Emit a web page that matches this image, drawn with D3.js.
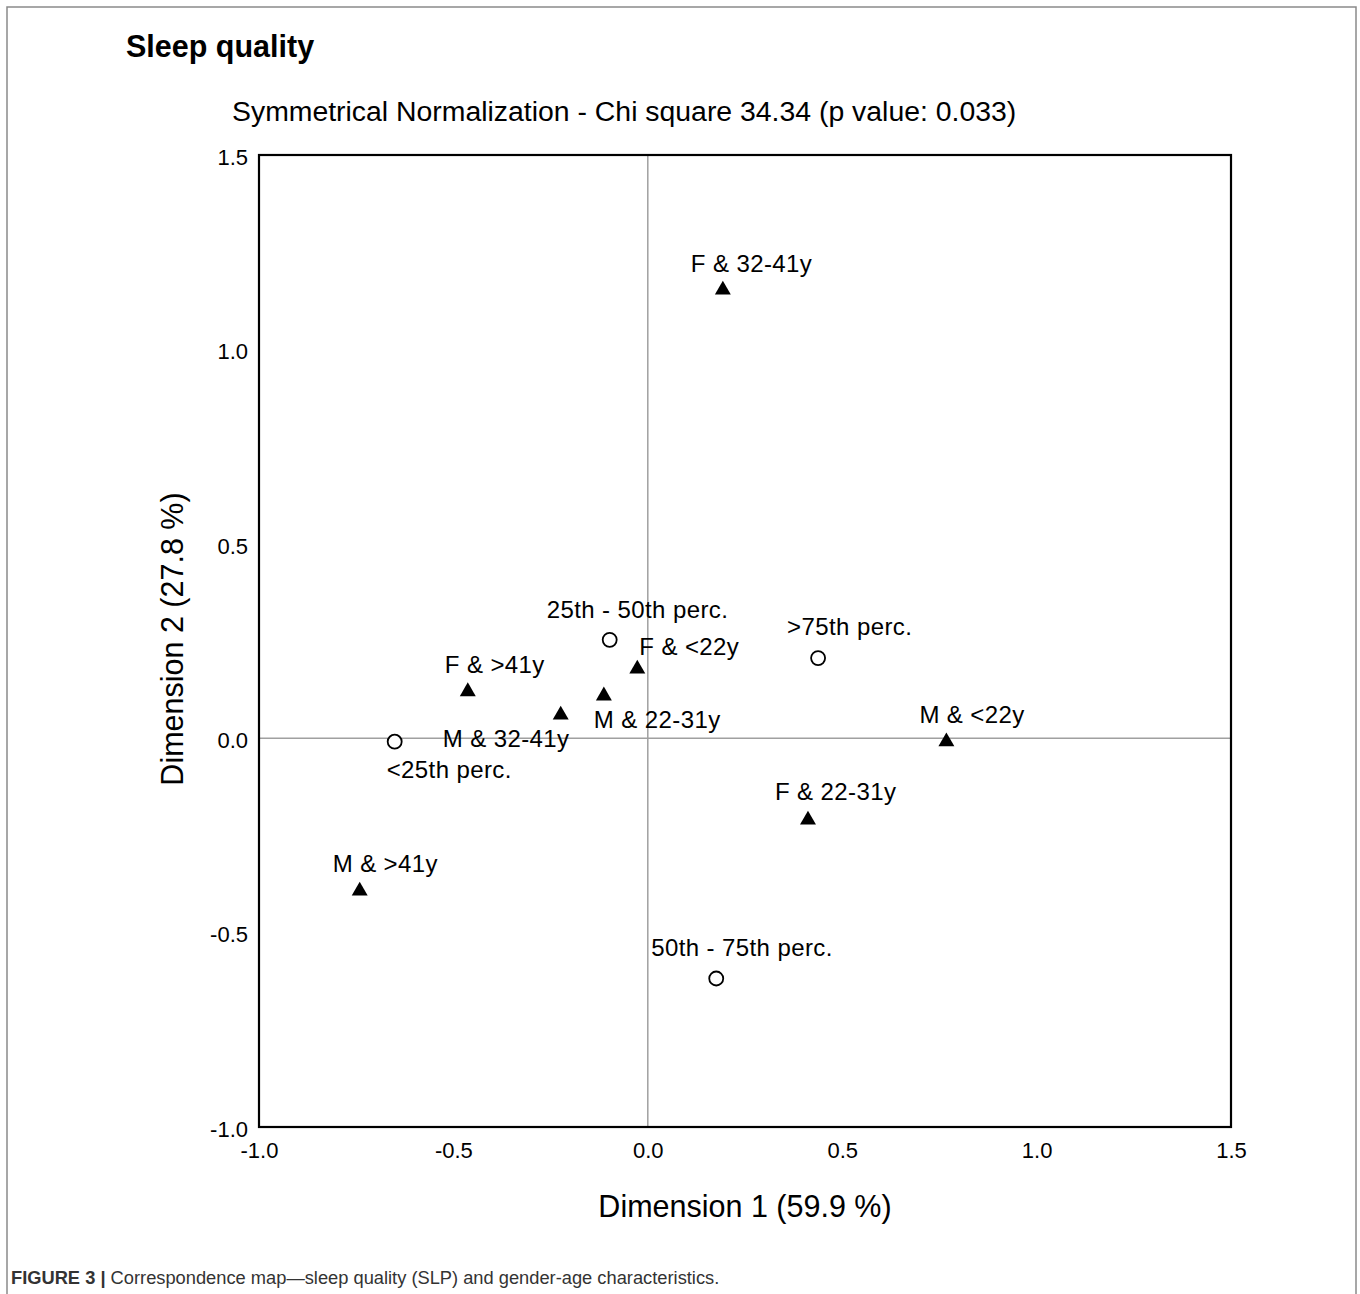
<!DOCTYPE html>
<html>
<head>
<meta charset="utf-8">
<script src="https://cdn.jsdelivr.net/npm/d3@7"></script>
<style>
  html, body { margin: 0; padding: 0; background: #fff; }
  svg { display: block; font-family: "Liberation Sans", Arial, Helvetica, sans-serif; }
</style>
</head>
<body>
<svg id="chart" width="1360" height="1294"></svg>
<script>
// ---- Data ----
const rowLabels = ["<25th perc.", "25th - 50th perc.", "50th - 75th perc.", ">75th perc."];
const rowDim1 = [-0.651, -0.098, 0.176, 0.438];
const rowDim2 = [-0.009, 0.253, -0.618, 0.206];

const colLabels = ["M & <22y", "M & 22-31y", "M & 32-41y", "M & >41y", "F & <22y", "F & 22-31y", "F & 32-41y", "F & >41y"];
const colDim1 = [0.768, -0.113, -0.224, -0.741, -0.027, 0.412, 0.193, -0.463];
const colDim2 = [-0.009, 0.109, 0.060, -0.393, 0.178, -0.210, 1.153, 0.120];

const xTicks = [-1.0, -0.5, 0.0, 0.5, 1.0, 1.5];
const yTicks = [-1.0, -0.5, 0.0, 0.5, 1.0, 1.5];

const titleText = "Sleep quality";
const subtitleText = "Symmetrical Normalization - Chi square 34.34 (p value: 0.033)";
const xTitle = "Dimension 1 (59.9 %)";
const yTitle = "Dimension 2 (27.8 %)";
const captionBold = "FIGURE 3 |";
const captionText = " Correspondence map\u2014sleep quality (SLP) and gender-age characteristics.";

// ---- Layout (label placement relative to marker, px) ----
const rowLabelOffsets = [[-8, 36], [-63, -22], [-65, -22], [-31, -23]];
const colLabelOffsets = [[-27, -19], [-10, 32], [-118, 32], [-27, -19], [2, -14], [-33, -20], [-32, -18], [-23, -19]];

const svg = d3.select("#chart");
const plot = { left: 259, top: 155, right: 1231, bottom: 1127 };

const x = d3.scaleLinear().domain([-1.0, 1.5]).range([plot.left, plot.right]);
const y = d3.scaleLinear().domain([-1.0, 1.5]).range([plot.bottom, plot.top]);

// outer figure frame
svg.append("path")
  .attr("d", "M7,1300 L7,7 L1356,7 L1356,1300")
  .attr("fill", "none").attr("stroke", "#8a8a8a").attr("stroke-width", 1.5);

// title
svg.append("text").attr("x", 126).attr("y", 57)
  .attr("font-size", 30.5).attr("font-weight", "bold").attr("fill", "#000")
  .text(titleText);

svg.append("text").attr("x", 232).attr("y", 121)
  .attr("font-size", 28.4).attr("fill", "#000")
  .text(subtitleText);

// reference lines
svg.append("line")
  .attr("x1", x(0)).attr("x2", x(0)).attr("y1", plot.top).attr("y2", plot.bottom)
  .attr("stroke", "#a0a0a0").attr("stroke-width", 1.5);
svg.append("line")
  .attr("x1", plot.left).attr("x2", plot.right).attr("y1", y(0)).attr("y2", y(0))
  .attr("stroke", "#a0a0a0").attr("stroke-width", 1.5);

// plot frame
svg.append("rect")
  .attr("x", plot.left).attr("y", plot.top)
  .attr("width", plot.right - plot.left).attr("height", plot.bottom - plot.top)
  .attr("fill", "none").attr("stroke", "#000").attr("stroke-width", 2.2);

const fmt = d => d.toFixed(1);

const gx = svg.append("g").attr("transform", `translate(0,${plot.bottom})`)
  .call(d3.axisBottom(x).tickValues(xTicks).tickFormat(fmt).tickSize(0).tickPadding(15));
gx.select(".domain").remove();
gx.selectAll("text").attr("font-size", 22).attr("fill", "#000")
  .attr("font-family", "'Liberation Sans', Arial, sans-serif");

const gy = svg.append("g").attr("transform", `translate(${plot.left},0)`)
  .call(d3.axisLeft(y).tickValues(yTicks).tickFormat(fmt).tickSize(0).tickPadding(11));
gy.select(".domain").remove();
gy.selectAll("text").attr("font-size", 22).attr("fill", "#000").attr("dy", "0.42em")
  .attr("font-family", "'Liberation Sans', Arial, sans-serif");

// axis titles
svg.append("text").attr("x", 745).attr("y", 1217)
  .attr("text-anchor", "middle").attr("font-size", 30.5).attr("fill", "#000")
  .text(xTitle);
svg.append("text")
  .attr("transform", "translate(183,639) rotate(-90)")
  .attr("text-anchor", "middle").attr("font-size", 30.5).attr("fill", "#000")
  .text(yTitle);

// rows: open circles
const rows = rowLabels.map((l, i) => ({ label: l, d1: rowDim1[i], d2: rowDim2[i], off: rowLabelOffsets[i] }));
svg.append("g").selectAll("circle").data(rows).join("circle")
  .attr("cx", d => x(d.d1)).attr("cy", d => y(d.d2)).attr("r", 7)
  .attr("fill", "#fff").attr("stroke", "#000").attr("stroke-width", 1.8);

// cols: filled triangles
const cols = colLabels.map((l, i) => ({ label: l, d1: colDim1[i], d2: colDim2[i], off: colLabelOffsets[i] }));
const tri = d3.symbol().type(d3.symbolTriangle).size(110);
svg.append("g").selectAll("path").data(cols).join("path")
  .attr("transform", d => `translate(${x(d.d1)},${y(d.d2)})`)
  .attr("d", tri).attr("fill", "#000");

// labels
const allPts = rows.concat(cols);
svg.append("g").selectAll("text").data(allPts).join("text")
  .attr("x", d => x(d.d1) + d.off[0]).attr("y", d => y(d.d2) + d.off[1])
  .attr("font-size", 24).attr("letter-spacing", 0.4).attr("fill", "#000")
  .text(d => d.label);

// caption
const cap = svg.append("text").attr("x", 11).attr("y", 1284)
  .attr("font-size", 18.3).attr("fill", "#333")
  .attr("font-family", "'Liberation Sans', Arial, Helvetica, sans-serif");
cap.append("tspan").attr("font-weight", "bold").text(captionBold);
cap.append("tspan").text(captionText);
</script>
</body>
</html>
